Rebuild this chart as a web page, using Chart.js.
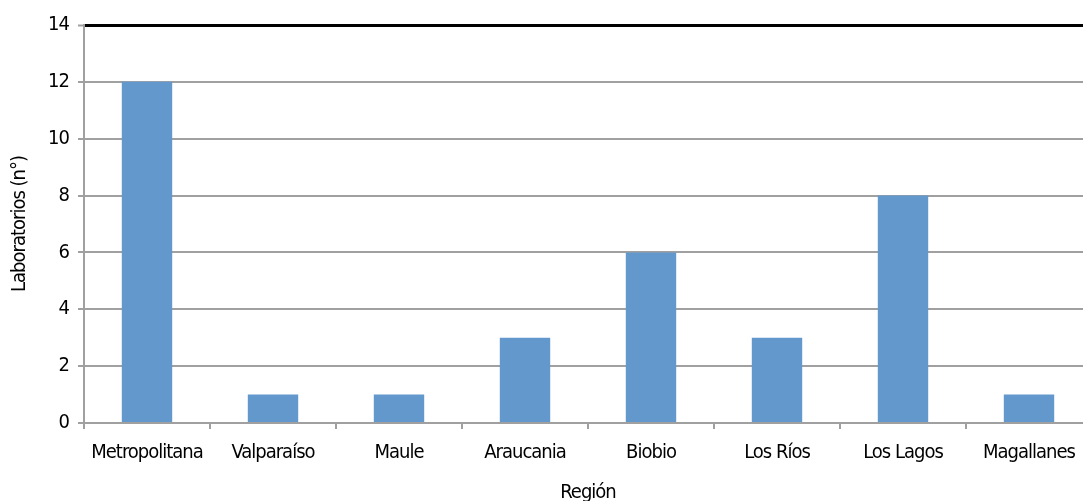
<!DOCTYPE html>
<html>
<head>
<meta charset="utf-8">
<script src="https://cdn.jsdelivr.net/npm/chart.js@4"></script>
<style>
  html, body { margin: 0; padding: 0; background: #fff; overflow: hidden; }
  #bar-chart { display: block; }
</style>
</head>
<body>
<!-- plot runs a little past the right edge of the window, as in the original -->
<canvas id="bar-chart" width="1092" height="501"></canvas>
<script>
var canvasElement = document.getElementById("bar-chart");
var regiones = ["Metropolitana", "Valparaíso", "Maule", "Araucania", "Biobio", "Los Ríos", "Los Lagos", "Magallanes"]; // categorias
var laboratorios = [12, 1, 1, 3, 6, 3, 8, 1]; // n° de laboratorios por region
var yTicks = [0, 2, 4, 6, 8, 10, 12, 14];

var fontFamily = "'DejaVu Sans Condensed', 'DejaVu Sans', sans-serif";
var gridGrey = "#a0a0a0";

// tighter letters, like the narrow font of the original
var tightText = {
    id: "tightText",
    beforeDraw: function (chart) { chart.ctx.letterSpacing = "-1px"; }
};

var config = {
    type: "bar",
    data: {
        labels: regiones,
        datasets: [{
            label: "Laboratorios (n°)",
            data: laboratorios,
            backgroundColor: "#6398cc",
            barPercentage: 0.4,
            categoryPercentage: 1.0
        }]
    },
    options: {
        responsive: false,
        animation: false,
        layout: { padding: { top: 25, right: 0, left: 0, bottom: 0 } },
        plugins: {
            legend: { display: false },
            tooltip: { enabled: false }
        },
        scales: {
            x: {
                grid: {
                    offset: true,
                    drawOnChartArea: false,
                    drawTicks: true,
                    tickLength: 6,
                    color: gridGrey,
                    lineWidth: 2
                },
                border: { color: gridGrey, width: 2 },
                ticks: {
                    color: "#000",
                    padding: 12,
                    autoSkip: false,
                    maxRotation: 0,
                    font: { family: fontFamily, size: 20 }
                },
                title: {
                    display: true,
                    text: "Región",
                    color: "#000",
                    padding: { top: 0, bottom: -2 },
                    font: { family: fontFamily, size: 20, lineHeight: 1 }
                },
                afterFit: function (s) { s.height = 78; }
            },
            y: {
                min: 0,
                max: 14,
                afterBuildTicks: function (s) {
                    s.ticks = yTicks.map(function (v) { return { value: v }; });
                },
                grid: {
                    tickLength: 6,
                    tickColor: gridGrey,
                    tickWidth: 2,
                    lineWidth: function (ctx) { return ctx.tick && ctx.tick.value === 14 ? 3 : 2; },
                    color: function (ctx) { return ctx.tick && ctx.tick.value === 14 ? "#000" : gridGrey; }
                },
                border: { color: gridGrey, width: 2 },
                ticks: {
                    color: "#000",
                    padding: 9,
                    font: { family: fontFamily, size: 20 }
                },
                title: {
                    display: true,
                    text: "Laboratorios (n°)",
                    color: "#000",
                    padding: { top: 8, bottom: 0 },
                    font: { family: fontFamily, size: 20 }
                },
                afterFit: function (s) { s.width = 84; }
            }
        }
    },
    plugins: [tightText]
};

var barChart = new Chart(canvasElement, config);
</script>
</body>
</html>
